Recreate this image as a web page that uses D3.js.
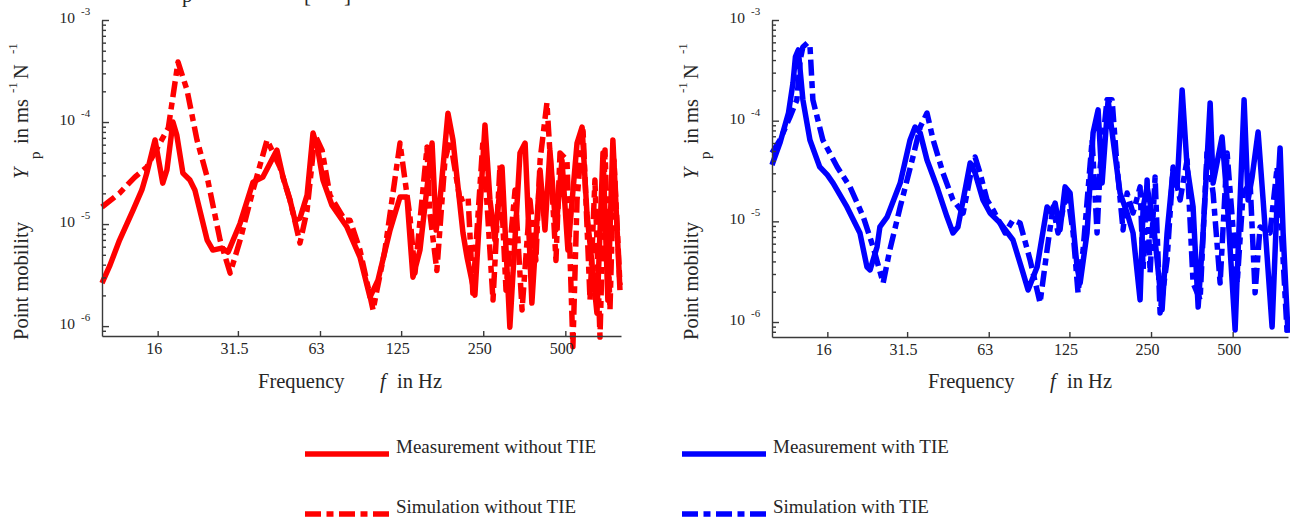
<!DOCTYPE html>
<html>
<head>
<meta charset="utf-8">
<script src="https://cdn.jsdelivr.net/npm/d3@7"></script>
<style>
  body { margin: 0; background: #fff; }
  text { font-family: "Liberation Serif", "Times New Roman", serif; }
</style>
</head>
<body>
<svg id="chart" width="1290" height="520"></svg>
<script>
// tick definitions
var freqTicks = [16, 31.5, 63, 125, 250, 500];
var freqTickLabels = ["16", "31.5", "63", "125", "250", "500"];
var decadeExponents = [-3, -4, -5, -6];

// [frequency in Hz, point mobility in m/(s N)]
var measNoTie = [
  [10, 2.64e-6], [10.7, 3.96e-6], [11.6, 6.97e-6], [13.0, 1.37e-5], [14.0, 2.16e-5],
  [14.6, 3.16e-5], [15.65, 6.67e-5], [16.7, 2.52e-5], [17.3, 3.39e-5], [18.2, 1.0e-4],
  [18.8, 7.46e-5], [19.8, 3.16e-5], [21.0, 2.70e-5], [21.9, 2.16e-5], [24.3, 6.97e-6],
  [25.5, 5.56e-6], [27.5, 5.82e-6], [29.0, 5.31e-6], [32.1, 1.02e-5], [35.8, 2.58e-5],
  [38.9, 2.89e-5], [43.8, 5.31e-5], [46.1, 2.89e-5], [48.9, 1.72e-5], [51.0, 1.09e-5],
  [53.2, 1.14e-5], [56.5, 1.92e-5], [59.4, 7.8e-5], [61.9, 5.31e-5], [64.6, 2.70e-5],
  [69.7, 1.53e-5], [79.1, 9.35e-6], [88.3, 4.74e-6], [96.1, 1.92e-6], [102.8, 2.82e-6],
  [113.8, 8.73e-6], [123.8, 1.84e-5], [131.3, 1.84e-5], [138.1, 3.02e-6], [146.5, 5.56e-6],
  [162.3, 6.22e-5], [168, 8.73e-6], [173.5, 1.72e-5], [185.6, 1.22e-4], [193.6, 6.67e-5],
  [210.7, 8.17e-6], [218, 4.74e-6], [233, 2.01e-6], [253.7, 9.35e-5], [264.6, 1.72e-5],
  [276, 6.97e-6], [293, 3.62e-5], [313, 9.77e-7], [341, 4.97e-5], [356, 6.22e-5],
  [377, 1.68e-6], [404, 3.38e-5], [421, 8.73e-6], [439, 5.31e-5], [462, 8.73e-6],
  [486, 4.24e-5], [511, 5.56e-6], [552, 6.22e-5], [576, 8.93e-5], [600, 1.28e-5],
  [653, 1.34e-6], [687, 4.97e-5], [716, 1.80e-6], [747, 6.67e-5], [793, 2.25e-6]
];

var simNoTie = [
  [10, 1.47e-5], [11.6, 2.01e-5], [13.2, 2.89e-5], [14.6, 3.62e-5], [16.3, 6.22e-5],
  [17.5, 8.73e-5], [19.0, 3.87e-4], [20.5, 2.06e-4], [22.3, 6.67e-5], [24.3, 2.89e-5],
  [27.1, 6.97e-6], [29.5, 3.31e-6], [32.1, 6.97e-6], [35.8, 2.16e-5], [40.3, 6.67e-5],
  [44.9, 3.62e-5], [48.9, 1.72e-5], [53.2, 6.52e-6], [56.5, 1.37e-5], [60.4, 7.46e-5],
  [64.1, 5.31e-5], [68.5, 1.92e-5], [77.8, 1.09e-5], [81.2, 1.09e-5], [88.3, 5.56e-6],
  [98.6, 1.44e-6], [109, 5.56e-6], [123.8, 6.22e-5], [134.7, 1.17e-5], [140.5, 3.31e-6],
  [155.5, 5.69e-5], [158.9, 1.37e-5], [169, 3.5e-6], [181, 4.24e-5], [189, 6.67e-5],
  [205.5, 1.72e-5], [220, 1.84e-5], [229, 2.11e-6], [249.5, 6.67e-5], [271.5, 1.80e-6],
  [288, 3.79e-5], [303, 2.25e-6], [327, 2.16e-5], [347, 1.44e-6], [371, 1.72e-5],
  [390, 4.4e-6], [404, 4.24e-5], [428, 1.54e-4], [443, 3.38e-5], [462, 4.4e-6],
  [478, 4.97e-5], [507, 4.24e-5], [533, 6.3e-7], [552, 1.72e-5], [580, 8.93e-5],
  [616, 1.80e-6], [642, 2.7e-5], [670, 7.8e-7], [699, 5.31e-5], [729, 1.44e-6],
  [754, 4.24e-5], [793, 2.52e-6]
];

var measTie = [
  [10, 3.63e-5], [10.7, 6.01e-5], [11.5, 1.19e-4], [11.95, 2.37e-4], [12.2, 4.30e-4],
  [12.5, 5.04e-4], [13.0, 1.61e-4], [13.8, 6.43e-5], [15.0, 3.47e-5], [16.0, 2.89e-5],
  [16.8, 2.40e-5], [18.9, 1.39e-5], [21.1, 7.67e-6], [22.4, 3.52e-6], [23.0, 3.29e-6],
  [24.4, 5.57e-6], [25.0, 8.8e-6], [26.6, 1.11e-5], [29.7, 2.40e-5], [32.3, 6.43e-5],
  [33.7, 8.65e-5], [35.2, 7.55e-5], [37.3, 4.07e-5], [40.6, 2.20e-5], [44.2, 1.11e-5],
  [46.5, 7.67e-6], [48.5, 8.8e-6], [50.7, 1.63e-5], [53.8, 3.80e-5], [56.1, 3.03e-5],
  [60.0, 1.63e-5], [63.7, 1.21e-5], [69.4, 9.64e-6], [77.4, 6.53e-6], [84.3, 3.08e-6],
  [88.0, 2.08e-6], [95.0, 3.52e-6], [103.4, 1.39e-5], [107.8, 1.21e-5], [110.7, 1.52e-5],
  [115.4, 8.2e-6], [120.5, 2.20e-5], [125.7, 1.91e-5], [133.4, 3.52e-6], [136.9, 2.44e-6],
  [145.2, 7.67e-6], [152.8, 7.55e-5], [159.5, 1.28e-4], [165, 2.40e-5], [173.6, 1.61e-4],
  [181.1, 6.43e-5], [192.2, 1.91e-5], [204, 1.21e-5], [214.6, 7.67e-6], [227.8, 1.66e-6],
  [233.8, 1.39e-5], [241.8, 2.20e-5], [254.4, 1.03e-5], [274.6, 1.32e-6], [286.5, 7.67e-6],
  [301.5, 3.24e-5], [311.9, 2.20e-5], [325.6, 2.02e-4], [339.6, 3.47e-5], [357.3, 1.39e-5],
  [373, 1.41e-6], [389, 7.67e-6], [413, 1.50e-4], [423.5, 2.40e-5], [457, 6.89e-5],
  [477, 1.63e-5], [510.6, 8.35e-7], [532.6, 1.63e-5], [551, 1.61e-4], [570, 1.63e-5],
  [590, 2.76e-5], [620.5, 7.72e-5], [647.6, 1.63e-5], [699, 8.93e-7], [729.5, 1.63e-5],
  [748, 5.36e-5], [767.5, 7.67e-6], [800, 7.8e-7]
];

var simTie = [
  [10, 4.78e-5], [10.7, 6.43e-5], [11.65, 1.09e-4], [12.35, 1.61e-4], [12.7, 4.01e-4],
  [13.0, 5.40e-4], [13.5, 5.92e-4], [13.8, 5.6e-4], [14.15, 1.61e-4], [15.4, 6.43e-5],
  [17.4, 3.47e-5], [19.4, 2.20e-5], [21.7, 1.11e-5], [23.6, 5.57e-6], [25.7, 2.44e-6],
  [27.2, 5.2e-6], [29.7, 1.39e-5], [33.1, 4.36e-5], [35.2, 8.65e-5], [37.3, 1.19e-4],
  [39.3, 6.43e-5], [42.7, 3.03e-5], [46.5, 1.63e-5], [50.7, 1.21e-5], [53.8, 2.76e-5],
  [56.1, 4.36e-5], [58.5, 3.03e-5], [62.1, 1.63e-5], [65.4, 1.30e-5], [72.4, 7.67e-6],
  [77.4, 1.03e-5], [82.2, 9.64e-6], [89.5, 4.14e-6], [97.4, 1.55e-6], [103.4, 5.2e-6],
  [108.8, 1.39e-5], [113.5, 7.67e-6], [122.5, 2.05e-5], [129, 7.67e-6], [134.5, 1.95e-6],
  [140.4, 5.2e-6], [151.6, 6.43e-5], [158.1, 7.67e-6], [162.3, 3.47e-5], [172, 1.61e-4],
  [179.6, 1.61e-4], [187.4, 3.47e-5], [197.1, 8.2e-6], [204, 1.91e-5], [214.6, 1.21e-5],
  [227.8, 2.20e-5], [233.8, 3.29e-6], [241.8, 2.58e-5], [248, 3.08e-6], [258.8, 2.76e-5],
  [270, 1.23e-6], [286.5, 4.14e-6], [301.5, 3.47e-5], [320, 1.63e-5], [339.6, 4.07e-5],
  [357.3, 2.44e-6], [379.2, 1.66e-6], [402.5, 5.12e-5], [423.5, 1.91e-5], [449.5, 2.44e-6],
  [477, 4.78e-5], [497.8, 1.11e-5], [519.6, 2.44e-6], [546.5, 1.91e-5], [580, 2.40e-5],
  [605, 1.95e-6], [631, 8.8e-6], [687, 7.67e-6], [729.5, 3.47e-5], [767.5, 4.14e-6],
  [794, 7.8e-7]
];

var legendLabels = ["Measurement without TIE", "Simulation without TIE",
                    "Measurement with TIE", "Simulation with TIE"];

var svg = d3.select("#chart");
var serif = '"Liberation Serif", "Times New Roman", serif';
var axisColor = "#3a3a3a";
var textColor = "#262626";
var dashDot = "16,5.5,7,5.5";

// cut-off caption line from above the figure (only descenders show)
svg.append("text").attr("x", 182).attr("y", 2).style("font-size", "21px").attr("fill", textColor).text("p");
svg.append("text").attr("x", 304).attr("y", 2).style("font-size", "21px").attr("fill", textColor).text("[");
svg.append("text").attr("x", 344).attr("y", 2).style("font-size", "21px").attr("fill", textColor).text("]");

function drawPanel(p) {
  var x = d3.scaleLog().domain([10, 800]).range([p.left, p.right]);
  var y = d3.scaleLog().domain([p.yMin, 1e-3]).range([p.bottom, 20]);
  var g = svg.append("g");

  // lines
  var line = d3.line()
    .x(d => x(d[0]))
    .y(d => y(d[1]));

  g.append("path")
    .datum(p.meas)
    .attr("d", line)
    .attr("fill", "none")
    .attr("stroke", p.color)
    .attr("stroke-width", 5.5)
    .attr("stroke-linejoin", "round");

  g.append("path")
    .datum(p.sim)
    .attr("d", line)
    .attr("fill", "none")
    .attr("stroke", p.color)
    .attr("stroke-width", 5.5)
    .attr("stroke-linejoin", "round")
    .attr("stroke-dasharray", dashDot);

  // bottom axis, ticks pointing inward
  var bottomAxis = d3.axisBottom(x)
    .tickValues(freqTicks)
    .tickFormat((d, i) => freqTickLabels[i])
    .tickSizeInner(-5)
    .tickSizeOuter(0)
    .tickPadding(7);
  var bx = g.append("g")
    .attr("transform", `translate(0, ${p.bottom})`)
    .call(bottomAxis);
  bx.attr("font-family", serif).attr("font-size", null);
  bx.selectAll("text")
    .style("font-family", serif)
    .style("font-size", "16px")
    .attr("dx", -4)
    .attr("fill", textColor);

  // left axis: minor and major ticks, pointing inward
  var minor = [];
  for (var e = -7; e <= -4; e++) {
    for (var k = 2; k <= 9; k++) {
      var v = k * Math.pow(10, e);
      if (v > p.yMin * 1.01 && v < 1e-3) minor.push(v);
    }
  }
  var major = decadeExponents.map(e => Math.pow(10, e));

  var minorAxis = d3.axisRight(y).tickValues(minor).tickFormat("").tickSizeInner(4).tickSizeOuter(0);
  var majorAxis = d3.axisRight(y).tickValues(major).tickFormat("").tickSizeInner(7).tickSizeOuter(0);
  var ly1 = g.append("g").attr("transform", `translate(${p.left}, 0)`).call(minorAxis);
  var ly2 = g.append("g").attr("transform", `translate(${p.left}, 0)`).call(majorAxis);
  ly2.select(".domain").remove();

  [bx, ly1, ly2].forEach(function(a) {
    a.selectAll("path, line").attr("stroke", axisColor).attr("stroke-width", 1.4);
  });

  // decade labels 10^e
  decadeExponents.forEach(function(e) {
    var ty = y(Math.pow(10, e));
    g.append("text")
      .attr("x", p.left - 27)
      .attr("y", ty + 3)
      .attr("text-anchor", "end")
      .style("font-size", "15.5px")
      .attr("fill", textColor)
      .text("10");
    g.append("text")
      .attr("x", p.left - 21)
      .attr("y", ty - 5)
      .style("font-size", "11px")
      .attr("fill", textColor)
      .text("-" + Math.abs(e));
  });

  // y title (rotated pieces)
  var tx = p.left - 74;
  function piece(txt, start, baseX, size, italic) {
    g.append("text")
      .attr("transform", `translate(${baseX}, ${start}) rotate(-90)`)
      .style("font-size", size + "px")
      .style("font-style", italic ? "italic" : "normal")
      .attr("fill", textColor)
      .text(txt);
  }
  piece("Point mobility", 340, tx, 20.5, false);
  piece("Y", 179, tx, 20.5, true);
  piece("p", 159, tx + 12, 15, false);
  piece("in ms", 144, tx, 20.5, false);
  piece("-1", 93, tx - 11, 13, false);
  piece("N", 79, tx, 20.5, false);
  piece("-1", 54, tx - 11, 13, false);

  // x title
  var xt = g.append("text")
    .attr("y", 388)
    .style("font-size", "20.5px")
    .attr("fill", textColor);
  xt.append("tspan").attr("x", p.left + 156).text("Frequency");
  xt.append("tspan").attr("x", p.left + 278).style("font-style", "italic").text("f");
  xt.append("tspan").attr("x", p.left + 295).text("in Hz");
}

drawPanel({ left: 102, right: 621, bottom: 336, yMin: 8e-7, color: "#ff0000", meas: measNoTie, sim: simNoTie });
drawPanel({ left: 772, right: 1288, bottom: 337, yMin: 7.1e-7, color: "#0000ff", meas: measTie, sim: simTie });

// legend
var legend = svg.append("g");
var legendItems = [
  { label: legendLabels[0], color: "#ff0000", dash: null, x: 305, y: 454 },
  { label: legendLabels[1], color: "#ff0000", dash: dashDot, x: 305, y: 514 },
  { label: legendLabels[2], color: "#0000ff", dash: null, x: 682, y: 454 },
  { label: legendLabels[3], color: "#0000ff", dash: dashDot, x: 682, y: 514 }
];
legendItems.forEach(function(d) {
  legend.append("line")
    .attr("x1", d.x).attr("x2", d.x + 84)
    .attr("y1", d.y).attr("y2", d.y)
    .attr("stroke", d.color)
    .attr("stroke-width", 5.5)
    .attr("stroke-dasharray", d.dash);
  legend.append("text")
    .attr("x", d.x + 91)
    .attr("y", d.y - 1)
    .style("font-size", "19px")
    .attr("fill", textColor)
    .text(d.label);
});
</script>
</body>
</html>
